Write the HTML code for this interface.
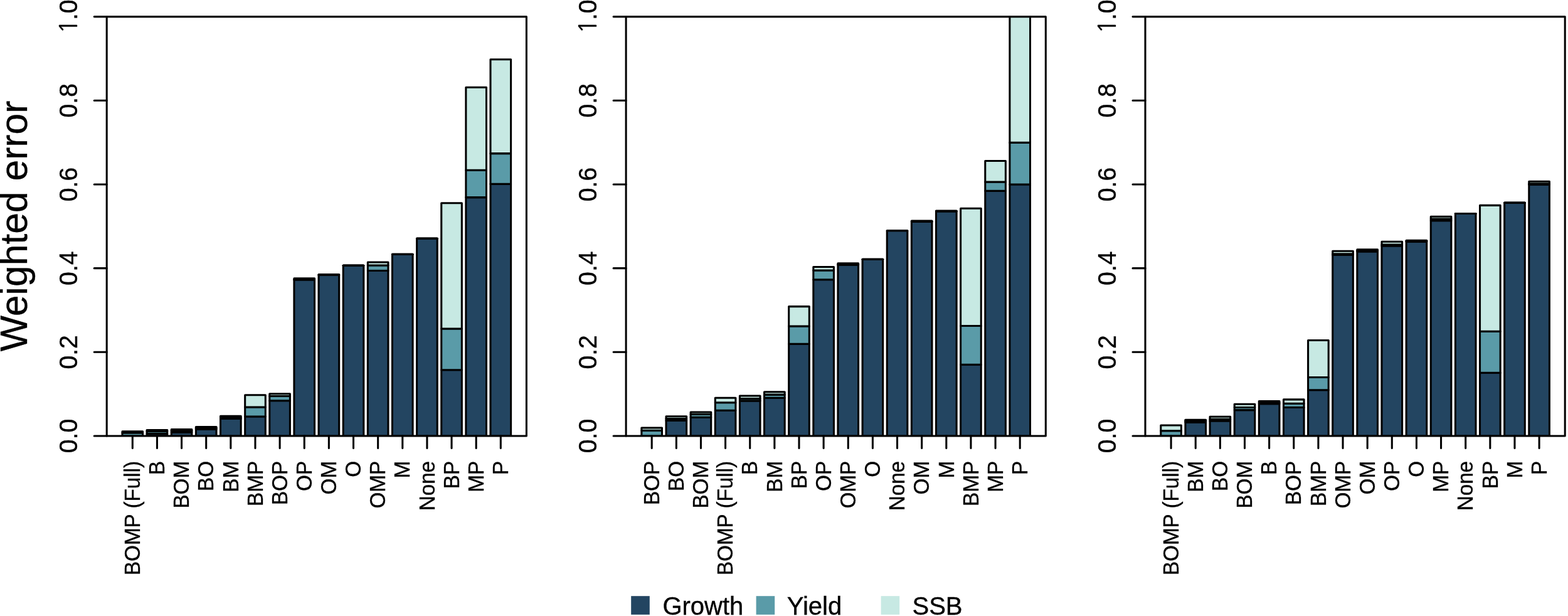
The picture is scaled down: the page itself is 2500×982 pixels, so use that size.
<!DOCTYPE html><html><head><meta charset="utf-8"><title>Weighted error</title><style>
html,body{margin:0;padding:0;background:#fff;}body{width:2500px;height:982px;overflow:hidden;}
svg{display:block;}text{font-family:"Liberation Sans",Arial,Helvetica,sans-serif;fill:#000;stroke:#000;stroke-width:0.35px;}
</style></head><body>
<svg width="2500" height="982" viewBox="0 0 2500 982">
<rect x="0" y="0" width="2500" height="982" fill="#fff"/>
<defs>
<clipPath id="c0"><rect x="170.20" y="26.60" width="669.20" height="668.40"/></clipPath>
<clipPath id="c1"><rect x="998.10" y="26.60" width="669.20" height="668.40"/></clipPath>
<clipPath id="c2"><rect x="1826.00" y="26.60" width="669.20" height="668.40"/></clipPath>
</defs>
<text transform="translate(42.8,360.4) rotate(-90)" text-anchor="middle" font-size="60.6">Weighted error</text>
<g clip-path="url(#c0)" stroke="#000" stroke-width="3.05" stroke-linejoin="round">
<rect x="194.99" y="695.00" width="32.61" height="0.00" fill="#234561"/>
<rect x="194.99" y="689.92" width="32.61" height="5.08" fill="#5a9ba8"/>
<rect x="194.99" y="687.65" width="32.61" height="2.27" fill="#c7e9e3"/>
<rect x="234.12" y="691.39" width="32.61" height="3.61" fill="#234561"/>
<rect x="234.12" y="687.51" width="32.61" height="3.88" fill="#5a9ba8"/>
<rect x="234.12" y="685.44" width="32.61" height="2.07" fill="#c7e9e3"/>
<rect x="273.25" y="689.12" width="32.61" height="5.88" fill="#234561"/>
<rect x="273.25" y="686.58" width="32.61" height="2.54" fill="#5a9ba8"/>
<rect x="273.25" y="684.64" width="32.61" height="1.94" fill="#c7e9e3"/>
<rect x="312.39" y="684.24" width="32.61" height="10.76" fill="#234561"/>
<rect x="312.39" y="682.23" width="32.61" height="2.01" fill="#5a9ba8"/>
<rect x="312.39" y="680.43" width="32.61" height="1.80" fill="#c7e9e3"/>
<rect x="351.52" y="667.53" width="32.61" height="27.47" fill="#234561"/>
<rect x="351.52" y="665.52" width="32.61" height="2.01" fill="#5a9ba8"/>
<rect x="351.52" y="663.38" width="32.61" height="2.14" fill="#c7e9e3"/>
<rect x="390.66" y="663.99" width="32.61" height="31.01" fill="#234561"/>
<rect x="390.66" y="649.08" width="32.61" height="14.91" fill="#5a9ba8"/>
<rect x="390.66" y="629.76" width="32.61" height="19.32" fill="#c7e9e3"/>
<rect x="429.79" y="638.72" width="32.61" height="56.28" fill="#234561"/>
<rect x="429.79" y="631.57" width="32.61" height="7.15" fill="#5a9ba8"/>
<rect x="429.79" y="627.69" width="32.61" height="3.88" fill="#c7e9e3"/>
<rect x="468.93" y="446.09" width="32.61" height="248.91" fill="#234561"/>
<rect x="468.93" y="445.29" width="32.61" height="0.80" fill="#5a9ba8"/>
<rect x="468.93" y="443.82" width="32.61" height="1.47" fill="#c7e9e3"/>
<rect x="508.06" y="438.27" width="32.61" height="256.73" fill="#234561"/>
<rect x="508.06" y="437.93" width="32.61" height="0.33" fill="#5a9ba8"/>
<rect x="508.06" y="437.47" width="32.61" height="0.47" fill="#c7e9e3"/>
<rect x="547.20" y="423.23" width="32.61" height="271.77" fill="#234561"/>
<rect x="547.20" y="423.16" width="32.61" height="0.07" fill="#5a9ba8"/>
<rect x="547.20" y="423.03" width="32.61" height="0.13" fill="#c7e9e3"/>
<rect x="586.33" y="431.58" width="32.61" height="263.42" fill="#234561"/>
<rect x="586.33" y="423.09" width="32.61" height="8.49" fill="#5a9ba8"/>
<rect x="586.33" y="418.02" width="32.61" height="5.08" fill="#c7e9e3"/>
<rect x="625.46" y="405.52" width="32.61" height="289.48" fill="#234561"/>
<rect x="625.46" y="405.38" width="32.61" height="0.13" fill="#5a9ba8"/>
<rect x="625.46" y="405.32" width="32.61" height="0.07" fill="#c7e9e3"/>
<rect x="664.60" y="380.25" width="32.61" height="314.75" fill="#234561"/>
<rect x="664.60" y="380.18" width="32.61" height="0.07" fill="#5a9ba8"/>
<rect x="664.60" y="380.12" width="32.61" height="0.07" fill="#c7e9e3"/>
<rect x="703.73" y="589.66" width="32.61" height="105.34" fill="#234561"/>
<rect x="703.73" y="523.96" width="32.61" height="65.70" fill="#5a9ba8"/>
<rect x="703.73" y="323.77" width="32.61" height="200.19" fill="#c7e9e3"/>
<rect x="742.87" y="314.61" width="32.61" height="380.39" fill="#234561"/>
<rect x="742.87" y="271.30" width="32.61" height="43.31" fill="#5a9ba8"/>
<rect x="742.87" y="139.16" width="32.61" height="132.14" fill="#c7e9e3"/>
<rect x="782.00" y="293.22" width="32.61" height="401.78" fill="#234561"/>
<rect x="782.00" y="244.63" width="32.61" height="48.59" fill="#5a9ba8"/>
<rect x="782.00" y="94.84" width="32.61" height="149.79" fill="#c7e9e3"/>
</g>
<rect x="170.20" y="26.60" width="669.20" height="668.40" fill="none" stroke="#000" stroke-width="3.05" stroke-linejoin="round"/>
<path d="M150.20 695.00H170.20M150.20 561.32H170.20M150.20 427.64H170.20M150.20 293.96H170.20M150.20 160.28H170.20M150.20 26.60H170.20M211.29 695.00V714.50M250.43 695.00V714.50M289.56 695.00V714.50M328.69 695.00V714.50M367.83 695.00V714.50M406.96 695.00V714.50M446.10 695.00V714.50M485.23 695.00V714.50M524.37 695.00V714.50M563.50 695.00V714.50M602.64 695.00V714.50M641.77 695.00V714.50M680.91 695.00V714.50M720.04 695.00V714.50M759.17 695.00V714.50M798.31 695.00V714.50" stroke="#000" stroke-width="3.05" stroke-linecap="round" fill="none"/>
<text transform="translate(122.70,695.00) rotate(-90) scale(1,1.05)" text-anchor="middle" font-size="39.2">0.0</text>
<text transform="translate(122.70,561.32) rotate(-90) scale(1,1.05)" text-anchor="middle" font-size="39.2">0.2</text>
<text transform="translate(122.70,427.64) rotate(-90) scale(1,1.05)" text-anchor="middle" font-size="39.2">0.4</text>
<text transform="translate(122.70,293.96) rotate(-90) scale(1,1.05)" text-anchor="middle" font-size="39.2">0.6</text>
<text transform="translate(122.70,160.28) rotate(-90) scale(1,1.05)" text-anchor="middle" font-size="39.2">0.8</text>
<text transform="translate(122.70,26.60) rotate(-90) scale(1,1.05)" text-anchor="middle" font-size="39.2"><tspan style="font-family:'NanumGothic','Liberation Sans',sans-serif" font-size="37.8">1</tspan><tspan dx="-1.1">.0</tspan></text>
<text transform="translate(222.99,734.90) rotate(-90) scale(1,1.04)" text-anchor="end" font-size="33.25">BOMP (Full)</text>
<text transform="translate(262.13,734.90) rotate(-90) scale(1,1.04)" text-anchor="end" font-size="33.25">B</text>
<text transform="translate(301.26,734.90) rotate(-90) scale(1,1.04)" text-anchor="end" font-size="33.25">BOM</text>
<text transform="translate(340.39,734.90) rotate(-90) scale(1,1.04)" text-anchor="end" font-size="33.25">BO</text>
<text transform="translate(379.53,734.90) rotate(-90) scale(1,1.04)" text-anchor="end" font-size="33.25">BM</text>
<text transform="translate(418.66,734.90) rotate(-90) scale(1,1.04)" text-anchor="end" font-size="33.25">BMP</text>
<text transform="translate(457.80,734.90) rotate(-90) scale(1,1.04)" text-anchor="end" font-size="33.25">BOP</text>
<text transform="translate(496.93,734.90) rotate(-90) scale(1,1.04)" text-anchor="end" font-size="33.25">OP</text>
<text transform="translate(536.07,734.90) rotate(-90) scale(1,1.04)" text-anchor="end" font-size="33.25">OM</text>
<text transform="translate(575.20,734.90) rotate(-90) scale(1,1.04)" text-anchor="end" font-size="33.25">O</text>
<text transform="translate(614.34,734.90) rotate(-90) scale(1,1.04)" text-anchor="end" font-size="33.25">OMP</text>
<text transform="translate(653.47,734.90) rotate(-90) scale(1,1.04)" text-anchor="end" font-size="33.25">M</text>
<text transform="translate(692.61,734.90) rotate(-90) scale(1,1.04)" text-anchor="end" font-size="33.25">None</text>
<text transform="translate(731.74,734.90) rotate(-90) scale(1,1.04)" text-anchor="end" font-size="33.25">BP</text>
<text transform="translate(770.87,734.90) rotate(-90) scale(1,1.04)" text-anchor="end" font-size="33.25">MP</text>
<text transform="translate(810.01,734.90) rotate(-90) scale(1,1.04)" text-anchor="end" font-size="33.25">P</text>
<g clip-path="url(#c1)" stroke="#000" stroke-width="3.05" stroke-linejoin="round">
<rect x="1022.89" y="695.00" width="32.61" height="0.00" fill="#234561"/>
<rect x="1022.89" y="686.31" width="32.61" height="8.69" fill="#5a9ba8"/>
<rect x="1022.89" y="681.97" width="32.61" height="4.34" fill="#c7e9e3"/>
<rect x="1062.02" y="670.54" width="32.61" height="24.46" fill="#234561"/>
<rect x="1062.02" y="667.60" width="32.61" height="2.94" fill="#5a9ba8"/>
<rect x="1062.02" y="663.72" width="32.61" height="3.88" fill="#c7e9e3"/>
<rect x="1101.15" y="665.19" width="32.61" height="29.81" fill="#234561"/>
<rect x="1101.15" y="660.58" width="32.61" height="4.61" fill="#5a9ba8"/>
<rect x="1101.15" y="657.03" width="32.61" height="3.54" fill="#c7e9e3"/>
<rect x="1140.29" y="654.23" width="32.61" height="40.77" fill="#234561"/>
<rect x="1140.29" y="641.66" width="32.61" height="12.57" fill="#5a9ba8"/>
<rect x="1140.29" y="634.24" width="32.61" height="7.42" fill="#c7e9e3"/>
<rect x="1179.42" y="638.85" width="32.61" height="56.15" fill="#234561"/>
<rect x="1179.42" y="635.45" width="32.61" height="3.41" fill="#5a9ba8"/>
<rect x="1179.42" y="630.90" width="32.61" height="4.55" fill="#c7e9e3"/>
<rect x="1218.56" y="634.31" width="32.61" height="60.69" fill="#234561"/>
<rect x="1218.56" y="629.10" width="32.61" height="5.21" fill="#5a9ba8"/>
<rect x="1218.56" y="624.82" width="32.61" height="4.28" fill="#c7e9e3"/>
<rect x="1257.69" y="548.22" width="32.61" height="146.78" fill="#234561"/>
<rect x="1257.69" y="520.08" width="32.61" height="28.14" fill="#5a9ba8"/>
<rect x="1257.69" y="488.60" width="32.61" height="31.48" fill="#c7e9e3"/>
<rect x="1296.83" y="445.82" width="32.61" height="249.18" fill="#234561"/>
<rect x="1296.83" y="430.92" width="32.61" height="14.91" fill="#5a9ba8"/>
<rect x="1296.83" y="425.50" width="32.61" height="5.41" fill="#c7e9e3"/>
<rect x="1335.96" y="422.23" width="32.61" height="272.77" fill="#234561"/>
<rect x="1335.96" y="421.22" width="32.61" height="1.00" fill="#5a9ba8"/>
<rect x="1335.96" y="419.82" width="32.61" height="1.40" fill="#c7e9e3"/>
<rect x="1375.10" y="413.40" width="32.61" height="281.60" fill="#234561"/>
<rect x="1375.10" y="413.34" width="32.61" height="0.07" fill="#5a9ba8"/>
<rect x="1375.10" y="413.27" width="32.61" height="0.07" fill="#c7e9e3"/>
<rect x="1414.23" y="367.75" width="32.61" height="327.25" fill="#234561"/>
<rect x="1414.23" y="367.68" width="32.61" height="0.07" fill="#5a9ba8"/>
<rect x="1414.23" y="367.68" width="32.61" height="0.00" fill="#c7e9e3"/>
<rect x="1453.36" y="353.58" width="32.61" height="341.42" fill="#234561"/>
<rect x="1453.36" y="352.91" width="32.61" height="0.67" fill="#5a9ba8"/>
<rect x="1453.36" y="352.11" width="32.61" height="0.80" fill="#c7e9e3"/>
<rect x="1492.50" y="337.00" width="32.61" height="358.00" fill="#234561"/>
<rect x="1492.50" y="336.47" width="32.61" height="0.53" fill="#5a9ba8"/>
<rect x="1492.50" y="336.00" width="32.61" height="0.47" fill="#c7e9e3"/>
<rect x="1531.63" y="581.31" width="32.61" height="113.69" fill="#234561"/>
<rect x="1531.63" y="519.41" width="32.61" height="61.89" fill="#5a9ba8"/>
<rect x="1531.63" y="332.19" width="32.61" height="187.22" fill="#c7e9e3"/>
<rect x="1570.77" y="304.19" width="32.61" height="390.81" fill="#234561"/>
<rect x="1570.77" y="290.08" width="32.61" height="14.10" fill="#5a9ba8"/>
<rect x="1570.77" y="256.40" width="32.61" height="33.69" fill="#c7e9e3"/>
<rect x="1609.90" y="294.03" width="32.61" height="400.97" fill="#234561"/>
<rect x="1609.90" y="227.39" width="32.61" height="66.64" fill="#5a9ba8"/>
<rect x="1609.90" y="-7.22" width="32.61" height="234.61" fill="#c7e9e3"/>
</g>
<rect x="998.10" y="26.60" width="669.20" height="668.40" fill="none" stroke="#000" stroke-width="3.05" stroke-linejoin="round"/>
<path d="M978.10 695.00H998.10M978.10 561.32H998.10M978.10 427.64H998.10M978.10 293.96H998.10M978.10 160.28H998.10M978.10 26.60H998.10M1039.19 695.00V714.50M1078.33 695.00V714.50M1117.46 695.00V714.50M1156.59 695.00V714.50M1195.73 695.00V714.50M1234.86 695.00V714.50M1274.00 695.00V714.50M1313.13 695.00V714.50M1352.27 695.00V714.50M1391.40 695.00V714.50M1430.54 695.00V714.50M1469.67 695.00V714.50M1508.81 695.00V714.50M1547.94 695.00V714.50M1587.07 695.00V714.50M1626.21 695.00V714.50" stroke="#000" stroke-width="3.05" stroke-linecap="round" fill="none"/>
<text transform="translate(950.60,695.00) rotate(-90) scale(1,1.05)" text-anchor="middle" font-size="39.2">0.0</text>
<text transform="translate(950.60,561.32) rotate(-90) scale(1,1.05)" text-anchor="middle" font-size="39.2">0.2</text>
<text transform="translate(950.60,427.64) rotate(-90) scale(1,1.05)" text-anchor="middle" font-size="39.2">0.4</text>
<text transform="translate(950.60,293.96) rotate(-90) scale(1,1.05)" text-anchor="middle" font-size="39.2">0.6</text>
<text transform="translate(950.60,160.28) rotate(-90) scale(1,1.05)" text-anchor="middle" font-size="39.2">0.8</text>
<text transform="translate(950.60,26.60) rotate(-90) scale(1,1.05)" text-anchor="middle" font-size="39.2"><tspan style="font-family:'NanumGothic','Liberation Sans',sans-serif" font-size="37.8">1</tspan><tspan dx="-1.1">.0</tspan></text>
<text transform="translate(1050.89,734.90) rotate(-90) scale(1,1.04)" text-anchor="end" font-size="33.25">BOP</text>
<text transform="translate(1090.03,734.90) rotate(-90) scale(1,1.04)" text-anchor="end" font-size="33.25">BO</text>
<text transform="translate(1129.16,734.90) rotate(-90) scale(1,1.04)" text-anchor="end" font-size="33.25">BOM</text>
<text transform="translate(1168.29,734.90) rotate(-90) scale(1,1.04)" text-anchor="end" font-size="33.25">BOMP (Full)</text>
<text transform="translate(1207.43,734.90) rotate(-90) scale(1,1.04)" text-anchor="end" font-size="33.25">B</text>
<text transform="translate(1246.56,734.90) rotate(-90) scale(1,1.04)" text-anchor="end" font-size="33.25">BM</text>
<text transform="translate(1285.70,734.90) rotate(-90) scale(1,1.04)" text-anchor="end" font-size="33.25">BP</text>
<text transform="translate(1324.83,734.90) rotate(-90) scale(1,1.04)" text-anchor="end" font-size="33.25">OP</text>
<text transform="translate(1363.97,734.90) rotate(-90) scale(1,1.04)" text-anchor="end" font-size="33.25">OMP</text>
<text transform="translate(1403.10,734.90) rotate(-90) scale(1,1.04)" text-anchor="end" font-size="33.25">O</text>
<text transform="translate(1442.24,734.90) rotate(-90) scale(1,1.04)" text-anchor="end" font-size="33.25">None</text>
<text transform="translate(1481.37,734.90) rotate(-90) scale(1,1.04)" text-anchor="end" font-size="33.25">OM</text>
<text transform="translate(1520.51,734.90) rotate(-90) scale(1,1.04)" text-anchor="end" font-size="33.25">M</text>
<text transform="translate(1559.64,734.90) rotate(-90) scale(1,1.04)" text-anchor="end" font-size="33.25">BMP</text>
<text transform="translate(1598.77,734.90) rotate(-90) scale(1,1.04)" text-anchor="end" font-size="33.25">MP</text>
<text transform="translate(1637.91,734.90) rotate(-90) scale(1,1.04)" text-anchor="end" font-size="33.25">P</text>
<g clip-path="url(#c2)" stroke="#000" stroke-width="3.05" stroke-linejoin="round">
<rect x="1850.79" y="695.00" width="32.61" height="0.00" fill="#234561"/>
<rect x="1850.79" y="686.71" width="32.61" height="8.29" fill="#5a9ba8"/>
<rect x="1850.79" y="678.02" width="32.61" height="8.69" fill="#c7e9e3"/>
<rect x="1889.92" y="673.28" width="32.61" height="21.72" fill="#234561"/>
<rect x="1889.92" y="671.20" width="32.61" height="2.07" fill="#5a9ba8"/>
<rect x="1889.92" y="669.27" width="32.61" height="1.94" fill="#c7e9e3"/>
<rect x="1929.05" y="671.00" width="32.61" height="24.00" fill="#234561"/>
<rect x="1929.05" y="668.20" width="32.61" height="2.81" fill="#5a9ba8"/>
<rect x="1929.05" y="664.19" width="32.61" height="4.01" fill="#c7e9e3"/>
<rect x="1968.19" y="653.63" width="32.61" height="41.37" fill="#234561"/>
<rect x="1968.19" y="649.48" width="32.61" height="4.14" fill="#5a9ba8"/>
<rect x="1968.19" y="644.34" width="32.61" height="5.15" fill="#c7e9e3"/>
<rect x="2007.32" y="643.67" width="32.61" height="51.33" fill="#234561"/>
<rect x="2007.32" y="641.66" width="32.61" height="2.01" fill="#5a9ba8"/>
<rect x="2007.32" y="639.59" width="32.61" height="2.07" fill="#c7e9e3"/>
<rect x="2046.46" y="649.48" width="32.61" height="45.52" fill="#234561"/>
<rect x="2046.46" y="643.27" width="32.61" height="6.22" fill="#5a9ba8"/>
<rect x="2046.46" y="636.85" width="32.61" height="6.42" fill="#c7e9e3"/>
<rect x="2085.59" y="621.81" width="32.61" height="73.19" fill="#234561"/>
<rect x="2085.59" y="601.49" width="32.61" height="20.32" fill="#5a9ba8"/>
<rect x="2085.59" y="542.47" width="32.61" height="59.02" fill="#c7e9e3"/>
<rect x="2124.73" y="406.18" width="32.61" height="288.82" fill="#234561"/>
<rect x="2124.73" y="404.85" width="32.61" height="1.34" fill="#5a9ba8"/>
<rect x="2124.73" y="400.30" width="32.61" height="4.55" fill="#c7e9e3"/>
<rect x="2163.86" y="401.04" width="32.61" height="293.96" fill="#234561"/>
<rect x="2163.86" y="399.17" width="32.61" height="1.87" fill="#5a9ba8"/>
<rect x="2163.86" y="397.76" width="32.61" height="1.40" fill="#c7e9e3"/>
<rect x="2203.00" y="392.08" width="32.61" height="302.92" fill="#234561"/>
<rect x="2203.00" y="389.94" width="32.61" height="2.14" fill="#5a9ba8"/>
<rect x="2203.00" y="385.20" width="32.61" height="4.75" fill="#c7e9e3"/>
<rect x="2242.13" y="385.13" width="32.61" height="309.87" fill="#234561"/>
<rect x="2242.13" y="384.13" width="32.61" height="1.00" fill="#5a9ba8"/>
<rect x="2242.13" y="383.33" width="32.61" height="0.80" fill="#c7e9e3"/>
<rect x="2281.26" y="351.71" width="32.61" height="343.29" fill="#234561"/>
<rect x="2281.26" y="348.97" width="32.61" height="2.74" fill="#5a9ba8"/>
<rect x="2281.26" y="345.23" width="32.61" height="3.74" fill="#c7e9e3"/>
<rect x="2320.40" y="340.55" width="32.61" height="354.45" fill="#234561"/>
<rect x="2320.40" y="340.48" width="32.61" height="0.07" fill="#5a9ba8"/>
<rect x="2320.40" y="340.41" width="32.61" height="0.07" fill="#c7e9e3"/>
<rect x="2359.53" y="594.34" width="32.61" height="100.66" fill="#234561"/>
<rect x="2359.53" y="528.17" width="32.61" height="66.17" fill="#5a9ba8"/>
<rect x="2359.53" y="327.38" width="32.61" height="200.79" fill="#c7e9e3"/>
<rect x="2398.67" y="323.24" width="32.61" height="371.76" fill="#234561"/>
<rect x="2398.67" y="323.17" width="32.61" height="0.07" fill="#5a9ba8"/>
<rect x="2398.67" y="323.10" width="32.61" height="0.07" fill="#c7e9e3"/>
<rect x="2437.80" y="294.29" width="32.61" height="400.71" fill="#234561"/>
<rect x="2437.80" y="292.89" width="32.61" height="1.40" fill="#5a9ba8"/>
<rect x="2437.80" y="289.28" width="32.61" height="3.61" fill="#c7e9e3"/>
</g>
<rect x="1826.00" y="26.60" width="669.20" height="668.40" fill="none" stroke="#000" stroke-width="3.05" stroke-linejoin="round"/>
<path d="M1806.00 695.00H1826.00M1806.00 561.32H1826.00M1806.00 427.64H1826.00M1806.00 293.96H1826.00M1806.00 160.28H1826.00M1806.00 26.60H1826.00M1867.09 695.00V714.50M1906.23 695.00V714.50M1945.36 695.00V714.50M1984.49 695.00V714.50M2023.63 695.00V714.50M2062.76 695.00V714.50M2101.90 695.00V714.50M2141.03 695.00V714.50M2180.17 695.00V714.50M2219.30 695.00V714.50M2258.44 695.00V714.50M2297.57 695.00V714.50M2336.71 695.00V714.50M2375.84 695.00V714.50M2414.97 695.00V714.50M2454.11 695.00V714.50" stroke="#000" stroke-width="3.05" stroke-linecap="round" fill="none"/>
<text transform="translate(1778.50,695.00) rotate(-90) scale(1,1.05)" text-anchor="middle" font-size="39.2">0.0</text>
<text transform="translate(1778.50,561.32) rotate(-90) scale(1,1.05)" text-anchor="middle" font-size="39.2">0.2</text>
<text transform="translate(1778.50,427.64) rotate(-90) scale(1,1.05)" text-anchor="middle" font-size="39.2">0.4</text>
<text transform="translate(1778.50,293.96) rotate(-90) scale(1,1.05)" text-anchor="middle" font-size="39.2">0.6</text>
<text transform="translate(1778.50,160.28) rotate(-90) scale(1,1.05)" text-anchor="middle" font-size="39.2">0.8</text>
<text transform="translate(1778.50,26.60) rotate(-90) scale(1,1.05)" text-anchor="middle" font-size="39.2"><tspan style="font-family:'NanumGothic','Liberation Sans',sans-serif" font-size="37.8">1</tspan><tspan dx="-1.1">.0</tspan></text>
<text transform="translate(1878.79,734.90) rotate(-90) scale(1,1.04)" text-anchor="end" font-size="33.25">BOMP (Full)</text>
<text transform="translate(1917.93,734.90) rotate(-90) scale(1,1.04)" text-anchor="end" font-size="33.25">BM</text>
<text transform="translate(1957.06,734.90) rotate(-90) scale(1,1.04)" text-anchor="end" font-size="33.25">BO</text>
<text transform="translate(1996.19,734.90) rotate(-90) scale(1,1.04)" text-anchor="end" font-size="33.25">BOM</text>
<text transform="translate(2035.33,734.90) rotate(-90) scale(1,1.04)" text-anchor="end" font-size="33.25">B</text>
<text transform="translate(2074.46,734.90) rotate(-90) scale(1,1.04)" text-anchor="end" font-size="33.25">BOP</text>
<text transform="translate(2113.60,734.90) rotate(-90) scale(1,1.04)" text-anchor="end" font-size="33.25">BMP</text>
<text transform="translate(2152.73,734.90) rotate(-90) scale(1,1.04)" text-anchor="end" font-size="33.25">OMP</text>
<text transform="translate(2191.87,734.90) rotate(-90) scale(1,1.04)" text-anchor="end" font-size="33.25">OM</text>
<text transform="translate(2231.00,734.90) rotate(-90) scale(1,1.04)" text-anchor="end" font-size="33.25">OP</text>
<text transform="translate(2270.14,734.90) rotate(-90) scale(1,1.04)" text-anchor="end" font-size="33.25">O</text>
<text transform="translate(2309.27,734.90) rotate(-90) scale(1,1.04)" text-anchor="end" font-size="33.25">MP</text>
<text transform="translate(2348.41,734.90) rotate(-90) scale(1,1.04)" text-anchor="end" font-size="33.25">None</text>
<text transform="translate(2387.54,734.90) rotate(-90) scale(1,1.04)" text-anchor="end" font-size="33.25">BP</text>
<text transform="translate(2426.67,734.90) rotate(-90) scale(1,1.04)" text-anchor="end" font-size="33.25">M</text>
<text transform="translate(2465.81,734.90) rotate(-90) scale(1,1.04)" text-anchor="end" font-size="33.25">P</text>
<rect x="1006.2" y="950.2" width="29.6" height="29.6" fill="#234561"/>
<text x="1056.4" y="979.6" font-size="40.0">Growth</text>
<rect x="1205.6" y="950.2" width="29.6" height="29.6" fill="#5a9ba8"/>
<text x="1254.7" y="979.6" font-size="40.0">Yield</text>
<rect x="1404.6" y="950.2" width="29.6" height="29.6" fill="#c7e9e3"/>
<text x="1454.5" y="979.6" font-size="40.0">SSB</text>
</svg></body></html>
